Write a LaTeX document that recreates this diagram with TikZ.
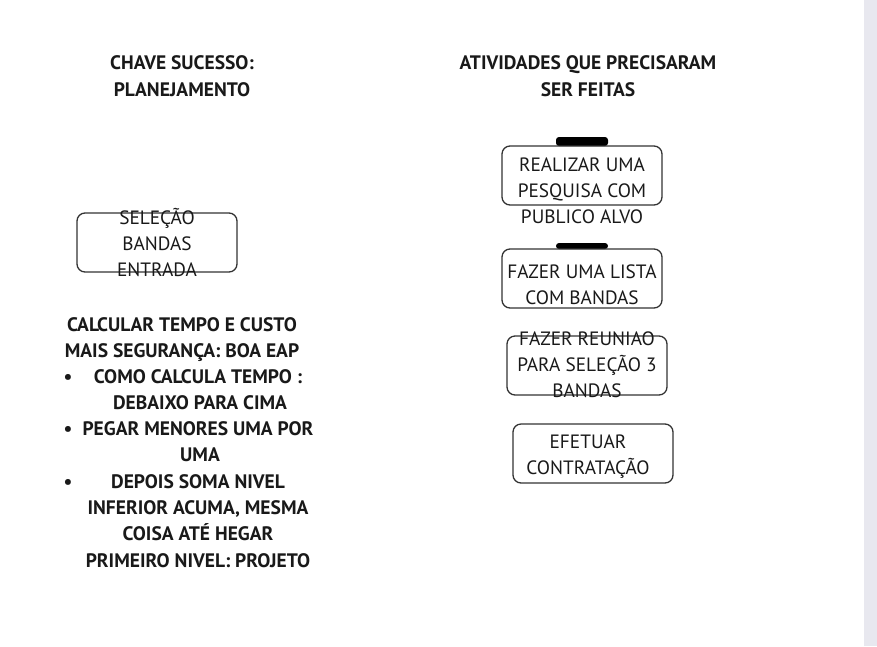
\documentclass[tikz,border=0pt]{standalone}
\usepackage{fontspec}
\setmainfont{PT Sans}
\begin{document}
\begin{tikzpicture}[x=1pt,y=-1pt,
  hb/.style={font=\bfseries\fontsize{19.5}{26}\selectfont, inner sep=0pt, anchor=base, text=black!90},
  tx/.style={font=\fontsize{19.3}{26}\selectfont, inner sep=0pt, anchor=base, text=black!90},
  box/.style={draw=black!80, line width=1.3pt, rounded corners=8pt, minimum width=160pt, minimum height=59pt, inner sep=0pt},
  tab/.style={fill=black, rounded corners=3pt}]
\useasboundingbox (0,0) rectangle (877,646);
\fill[fill={rgb,255:red,232;green,232;blue,239}] (864,0) rectangle (877,646);
% headings
\node[hb] (h1a) at (182,69) {CHAVE SUCESSO:};
\node[hb] (h1b) at (182,96) {PLANEJAMENTO};
\node[hb] (h2a) at (588,69) {ATIVIDADES QUE PRECISARAM};
\node[hb] (h2b) at (588,96) {SER FEITAS};
% left box
\node[box] (b0) at (157,242.5) {};
\node[tx] (b0a) at (157,224) {SELEÇÃO};
\node[tx] (b0b) at (157,250) {BANDAS};
\node[tx] (b0c) at (157,276) {ENTRADA};
% right boxes
\fill[tab] (556,146) rectangle (608,137);
\node[box] (b1) at (582,175.5) {};
\node[tx] (b1a) at (582,171) {REALIZAR UMA};
\node[tx] (b1b) at (582,197) {PESQUISA COM};
\node[tx] (b1c) at (582,223) {PUBLICO ALVO};
\fill[tab] (556,249) rectangle (608,243);
\node[box] (b2) at (582,278.5) {};
\node[tx] (b2a) at (582,278) {FAZER UMA LISTA};
\node[tx] (b2b) at (582,304) {COM BANDAS};
\node[box] (b3) at (587,365.5) {};
\node[tx] (b3a) at (587,345) {FAZER REUNIAO};
\node[tx] (b3b) at (587,371) {PARA SELEÇÃO 3};
\node[tx] (b3c) at (587,397) {BANDAS};
\node[box] (b4) at (593,453.5) {};
\node[tx] (b4a) at (588,448) {EFETUAR};
\node[tx] (b4b) at (588,474) {CONTRATAÇÃO};
% left text
\node[hb] (l1) at (182,331) {CALCULAR TEMPO E CUSTO};
\node[hb] (l2) at (182,357) {MAIS SEGURANÇA: BOA EAP};
\node[hb] (k1) at (68,383) {•};
\node[hb] (l3) at (198,383) {COMO CALCULA TEMPO :};
\node[hb] (l4) at (200,409) {DEBAIXO PARA CIMA};
\node[hb] (k2) at (68,435) {•};
\node[hb] (l5) at (198,435) {PEGAR MENORES UMA POR};
\node[hb] (l6) at (200,461) {UMA};
\node[hb] (k3) at (68,488) {•};
\node[hb] (l7) at (198,488) {DEPOIS SOMA NIVEL};
\node[hb] (l8) at (198,514) {INFERIOR ACUMA, MESMA};
\node[hb] (l9) at (198,540) {COISA ATÉ HEGAR};
\node[hb] (l10) at (198,567) {PRIMEIRO NIVEL: PROJETO};
\end{tikzpicture}
\end{document}
